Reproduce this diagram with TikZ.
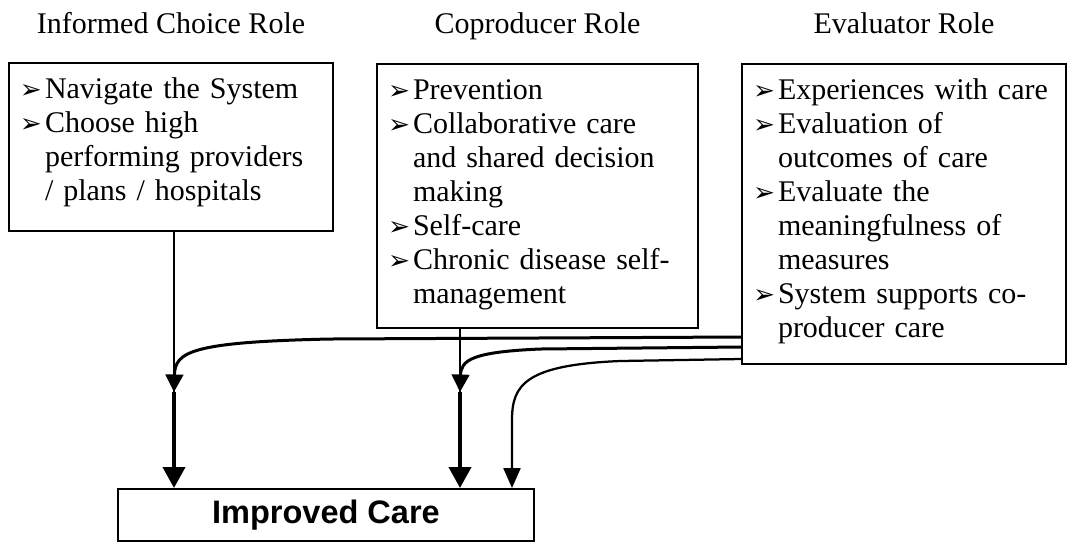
\documentclass[tikz,border=0pt]{standalone}
\usepackage{fontspec}
\setmainfont{Liberation Serif}
\newfontfamily\careSans{Liberation Sans}
\newfontfamily\dingFont{DejaVu Sans}
\usetikzlibrary{arrows.meta}

% bullet item with hanging indent
\newcommand{\roleItem}[1]{\par\noindent\hangindent=10pt\hangafter=1\makebox[10pt][l]{\dingFont\fontsize{10.5}{10.5}\selectfont ➢}#1}

\begin{document}
\begin{tikzpicture}[x=0.4pt,y=-0.4pt,font=\fontsize{12}{13.6}\selectfont,
    roleBox/.style={draw,line width=0.8pt,anchor=north west,inner sep=0pt},
    itemText/.style={anchor=north west,inner sep=0pt,text width=125pt,align=left,xshift=4.6pt,yshift=-0.6pt},
    roleTitle/.style={anchor=base,inner sep=0pt},
    thinLink/.style={line width=1pt},
    thickLink/.style={line width=1.6pt,-{Triangle[width=8.8pt,length=8.4pt]}},
    feedLink/.style={line width=1.2pt,-{Triangle[width=7pt,length=7pt]}},
    lastLink/.style={line width=0.9pt,-{Triangle[width=6.8pt,length=8pt]}}]
    \useasboundingbox (0,0) rectangle (1067,543);

    % Role boxes
    \node[roleBox,minimum width=129.6pt,minimum height=67.2pt] (b1) at (8,62) {};
    \node[roleBox,minimum width=128.4pt,minimum height=105.6pt] (b2) at (376,63) {};
    \node[roleBox,minimum width=129.6pt,minimum height=120pt] (b3) at (741,63) {};

    % Role titles
    \coordinate (tY) at (0,33);
    \node[roleTitle] (t1) at (b1.north |- tY) {Informed Choice Role};
    \node[roleTitle] (t2) at (b2.north |- tY) {Coproducer Role};
    \node[roleTitle] (t3) at (b3.north |- tY) {Evaluator Role};

    % Items
    \node[itemText] (i1) at (b1.north west) {%
        \roleItem{Navigate the System}
        \roleItem{Choose high\newline performing providers\newline / plans / hospitals}\par};
    \node[itemText] (i2) at (b2.north west) {%
        \roleItem{Prevention}
        \roleItem{Collaborative care\newline and shared decision\newline making}
        \roleItem{Self-care}
        \roleItem{Chronic disease self-\newline management}\par};
    \node[itemText] (i3) at (b3.north west) {%
        \roleItem{Experiences with care}
        \roleItem{Evaluation of\newline outcomes of care}
        \roleItem{Evaluate the\newline meaningfulness of\newline measures}
        \roleItem{System supports co-\newline producer care}\par};

    % Outcome
    \node[roleBox,minimum width=166.4pt,minimum height=20.8pt,font=\careSans\bfseries\fontsize{13}{13}\selectfont] (ic) at (117,488) {Improved Care};

    % Direct links
    \coordinate (jA) at (174,392);
    \coordinate (jB) at (460,392);
    \draw[thinLink] (b1.south -| jA) -- (jA);
    \draw[thickLink] (jA) -- (jA |- ic.north);
    \draw[thinLink] (b2.south -| jB) -- (jB);
    \draw[thickLink] (jB) -- (jB |- ic.north);

    % Evaluator feedback links
    \coordinate (lvA) at (0,337);
    \coordinate (lvB) at (0,347);
    \coordinate (lvC) at (0,359);
    \coordinate (cBend) at (512,420);
    \draw[feedLink] (b3.west |- lvA) -- (330,339) .. controls (190,342) and (175,352) .. (jA);
    \draw[feedLink] (b3.west |- lvB) -- (540,349) .. controls (472,352) and (461,360) .. (jB);
    \draw[lastLink] (b3.west |- lvC) -- (620,361) .. controls (525,365) and (512,385) .. (cBend) -- (cBend |- ic.north);
\end{tikzpicture}
\end{document}
